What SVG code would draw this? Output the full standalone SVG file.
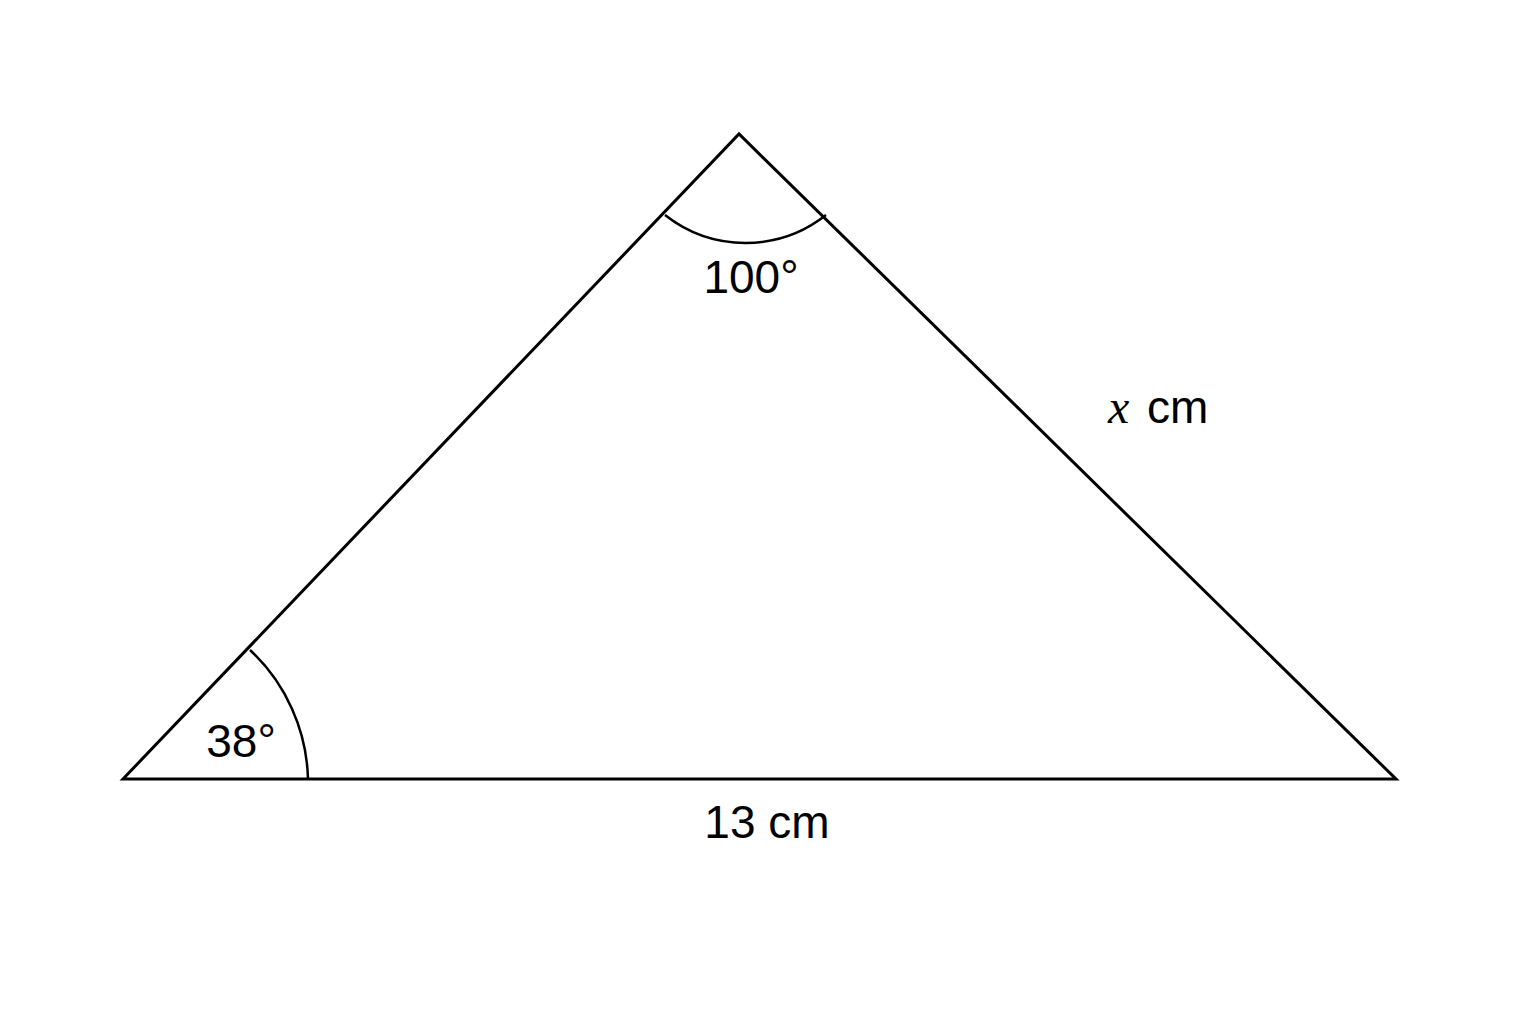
<svg xmlns="http://www.w3.org/2000/svg" width="1536" height="1024" viewBox="0 0 1536 1024">
<style>
.ln{fill:none;stroke:#000;stroke-width:3;stroke-linejoin:miter}
.arc{fill:none;stroke:#000;stroke-width:2.5}
.t{font-family:"Liberation Sans",Arial,sans-serif;font-size:46px;fill:#000}
.v{font-family:"Liberation Serif","Times New Roman",serif;font-style:italic;font-size:48px;fill:#000}
</style>
<rect width="1536" height="1024" fill="#fff"/>
<g id="triangle">
<path class="ln" d="M123 779 L739 134 L1396 779 Z"/>
</g>
<g id="angle-apex">
<path class="arc" d="M665 215 A130 130 0 0 0 826 215"/>
<text class="t" x="751" y="293" text-anchor="middle">100°</text>
</g>
<g id="angle-left">
<path class="arc" d="M250 650 A183 183 0 0 1 308 779"/>
<text class="t" x="241" y="757" text-anchor="middle">38°</text>
</g>
<g id="labels">
<text class="t" x="767" y="838" text-anchor="middle">13 cm</text>
<text class="v" x="1108" y="423">x</text>
<text class="t" x="1147" y="423">cm</text>
</g>
</svg>
